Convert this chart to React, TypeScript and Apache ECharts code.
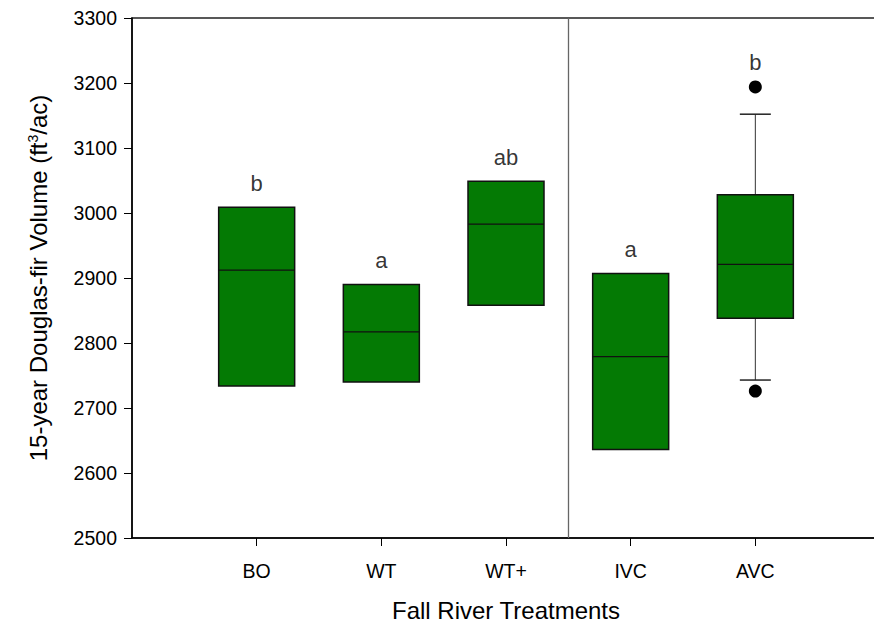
import React, { useEffect, useRef } from "react";
import * as echarts from "echarts";

// ---- data ----
const categories = ["BO", "WT", "WT+", "IVC", "AVC"];
const lowerWhisker = [2734, 2740, 2858, 2636, 2743];
const q1Values = [2734, 2740, 2858, 2636, 2838];
const medianValues = [2912, 2817, 2983, 2779, 2921];
const q3Values = [3009, 2890, 3049, 2907, 3028];
const upperWhisker = [3009, 2890, 3049, 2907, 3152];
// outliers: [category index, value]
const outlierPoints: [number, number][] = [
  [4, 3194],
  [4, 2726],
];
const letters = ["b", "a", "ab", "a", "b"];
const yMin = 2500;
const yMax = 3300;
const yInterval = 100;
const groupDivider = 3.5; // between WT+ and IVC

const FONT = "'Liberation Sans', Arial, sans-serif";
const GREEN = "#047a04";
const BOX_W = 76;
const CAP_W = 31;
const OUTLIER_SIZE = 13;

export default function App() {
  const ref = useRef<HTMLDivElement>(null);
  useEffect(() => {
    if (!ref.current) return;
    document.body.style.overflow = "hidden";
    const chart = echarts.init(ref.current, null, { renderer: "svg" });

    const boxData = categories.map((_, i) => [
      i + 1,
      lowerWhisker[i],
      q1Values[i],
      medianValues[i],
      q3Values[i],
      upperWhisker[i],
    ]);
    const outlierData = outlierPoints.map(([i, v]) => [i + 1, v]);
    const letterData = categories.map((_, i) => {
      const outs = outlierPoints.filter(([k]) => k === i).map(([, v]) => v);
      const topBox = Math.max(q3Values[i], upperWhisker[i]);
      const topOut = outs.length ? Math.max(...outs) : -Infinity;
      return { value: [i + 1, Math.max(topBox, topOut)] };
    });

    const option: any = {
      animation: false,
      grid: {
        left: 132,
        right: 0,
        top: 18,
        bottom: 84,
        show: true,
        borderColor: "#222",
        borderWidth: 1.5,
        backgroundColor: "transparent",
      },
      xAxis: {
        type: "value",
        min: 0,
        max: 6,
        interval: 1,
        splitLine: { show: false },
        axisLine: { show: true, lineStyle: { color: "#000", width: 1.5 } },
        axisTick: {
          show: true,
          length: 8,
          customValues: [1, 2, 3, 4, 5],
          lineStyle: { color: "#000", width: 1 },
        },
        axisLabel: {
          customValues: [1, 2, 3, 4, 5],
          formatter: (v: number) => categories[Math.round(v) - 1] ?? "",
          color: "#000",
          fontFamily: FONT,
          fontSize: 19.5,
          margin: 23,
        },
        name: "Fall River Treatments",
        nameLocation: "middle",
        nameGap: 60,
        nameTextStyle: { color: "#000", fontFamily: FONT, fontSize: 24 },
      },
      yAxis: {
        type: "value",
        min: yMin,
        max: yMax,
        interval: yInterval,
        splitLine: { show: false },
        axisLine: { show: true, lineStyle: { color: "#000", width: 1.5 } },
        axisTick: { show: true, length: 8, lineStyle: { color: "#000", width: 1 } },
        axisLabel: {
          formatter: (v: number) => String(v),
          color: "#000",
          fontFamily: FONT,
          fontSize: 19.5,
          margin: 15,
        },
        name: "{n|15-year Douglas-fir Volume (ft}{sup|3}{n|/ac)}",
        nameLocation: "middle",
        nameGap: 81,
        nameTextStyle: {
          color: "#000",
          fontFamily: FONT,
          fontSize: 24,
          rich: {
            n: { fontFamily: FONT, fontSize: 24, color: "#000" },
            sup: {
              fontFamily: FONT,
              fontSize: 14,
              color: "#000",
              padding: [0, 0, 11, 0],
            },
          },
        },
      },
      series: [
        {
          type: "custom",
          data: boxData,
          encode: { x: 0, y: [1, 2, 3, 4, 5] },
          renderItem: (params: any, api: any) => {
            const x = api.value(0);
            const low = api.coord([x, api.value(1)]);
            const q1 = api.coord([x, api.value(2)]);
            const med = api.coord([x, api.value(3)]);
            const q3 = api.coord([x, api.value(4)]);
            const high = api.coord([x, api.value(5)]);
            const cx = q1[0];
            const children: any[] = [];
            const wStyle = { stroke: "#333", lineWidth: 1 };
            if (api.value(5) > api.value(4)) {
              children.push({
                type: "line",
                shape: { x1: cx, y1: high[1], x2: cx, y2: q3[1] },
                style: wStyle,
              });
              children.push({
                type: "line",
                shape: { x1: cx - CAP_W / 2, y1: high[1], x2: cx + CAP_W / 2, y2: high[1] },
                style: { stroke: "#222", lineWidth: 1.5 },
              });
            }
            if (api.value(1) < api.value(2)) {
              children.push({
                type: "line",
                shape: { x1: cx, y1: low[1], x2: cx, y2: q1[1] },
                style: wStyle,
              });
              children.push({
                type: "line",
                shape: { x1: cx - CAP_W / 2, y1: low[1], x2: cx + CAP_W / 2, y2: low[1] },
                style: { stroke: "#222", lineWidth: 1.5 },
              });
            }
            children.push({
              type: "rect",
              shape: { x: cx - BOX_W / 2, y: q3[1], width: BOX_W, height: q1[1] - q3[1] },
              style: { fill: GREEN, stroke: "#111", lineWidth: 1.5 },
            });
            children.push({
              type: "line",
              shape: { x1: cx - BOX_W / 2, y1: med[1], x2: cx + BOX_W / 2, y2: med[1] },
              style: { stroke: "#111", lineWidth: 1.3 },
            });
            return { type: "group", children };
          },
          markLine: {
            silent: true,
            symbol: "none",
            label: { show: false },
            lineStyle: { color: "#666", width: 1.3, type: "solid" },
            data: [{ xAxis: groupDivider }],
          },
          z: 2,
        },
        {
          type: "scatter",
          data: outlierData,
          symbol: "circle",
          symbolSize: OUTLIER_SIZE,
          itemStyle: { color: "#000", opacity: 1 },
          z: 3,
        },
        {
          type: "scatter",
          data: letterData,
          symbolSize: 0,
          itemStyle: { color: "transparent" },
          label: {
            show: true,
            position: "top",
            distance: 13,
            formatter: (p: any) => letters[p.dataIndex],
            color: "#000",
            fontFamily: FONT,
            fontSize: 22,
          },
          z: 4,
        },
      ],
    };
    chart.setOption(option);
    return () => chart.dispose();
  }, []);

  return (
    <div
      ref={ref}
      style={{ position: "fixed", left: 0, top: 0, width: 880, height: 627, background: "#fff" }}
    />
  );
}
